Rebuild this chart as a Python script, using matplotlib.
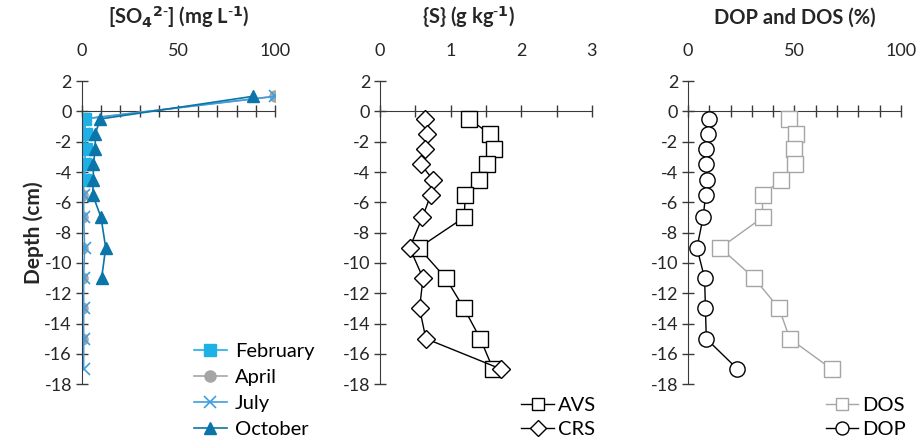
import matplotlib
matplotlib.use("Agg")
import matplotlib.pyplot as plt

plt.rcParams['font.family'] = ['Lato', 'DejaVu Sans']
plt.rcParams['axes.unicode_minus'] = False

# Depth profiles (cm); +1 = overlying water
depth_feb = [-0.5, -1.5, -2.5, -3.5, -4.5]
so4_feb = [1.5, 2, 2, 1.5, 1.5]
depth_apr = [1, -0.5, -1.5, -2.5, -3.5, -4.5, -5.5, -7, -9, -11, -13, -15]
so4_apr = [100, 0.5, 0.5, 0.5, 0, 0, 0, 0, 0, 0, 0, 0]
depth_jul = [1, -0.5, -1.5, -2.5, -3.5, -4.5, -5.5, -7, -9, -11, -13, -15, -17]
so4_jul = [100, 1, 1, 0, 1, 1, 1, 1, 1.5, 1, 1, 1, 1]
depth_oct = [1, -0.5, -1.5, -2.5, -3.5, -4.5, -5.5, -7, -9, -11]
so4_oct = [88.6, 9.5, 7, 7, 6, 6, 5.7, 10, 12.4, 10.3]

# Solid phase sulfur and pyritization
depth_s = [-0.5, -1.5, -2.5, -3.5, -4.5, -5.5, -7, -9, -11, -13, -15, -17]
avs = [1.26, 1.56, 1.62, 1.51, 1.40, 1.21, 1.19, 0.55, 0.93, 1.19, 1.42, 1.60]
crs = [0.64, 0.67, 0.64, 0.58, 0.75, 0.72, 0.60, 0.42, 0.61, 0.56, 0.65, 1.71]
dos = [47.5, 50.9, 49.7, 50.3, 43.9, 35.0, 35.0, 15.2, 31.0, 42.8, 47.8, 67.4]
dop = [9.7, 9.4, 8.6, 8.6, 9.1, 8.3, 7.1, 4.2, 7.8, 8.2, 8.6, 23.2]

AXC = '#3a3a3a'
TXT = '#262626'
TITLE_FS = 14.5
LEG_FS = 14.5


def style_axis(ax, xmax, label_ticks, minor_ticks):
    ax.set_xlim(0, xmax)
    ax.set_ylim(-18, 2)
    ax.set_yticks(range(-18, 3, 2))
    ax.xaxis.tick_top()
    ax.set_xticks(label_ticks)
    ax.tick_params(axis='x', length=0, pad=16, labelsize=13, labelcolor=TXT)
    ax.tick_params(axis='y', direction='inout', length=8, width=1, pad=3,
                   labelsize=13, labelcolor=TXT, color=AXC)
    for s in ['top', 'right', 'bottom']:
        ax.spines[s].set_visible(False)
    ax.spines['left'].set_color(AXC)
    # axis line at depth 0 with crossing ticks
    sec = ax.secondary_xaxis(0.9)
    sec.set_xticks(minor_ticks)
    sec.set_xticklabels([])
    sec.tick_params(axis='x', direction='inout', length=8, width=1, color=AXC)
    for sp in sec.spines.values():
        sp.set_color(AXC)


fig = plt.figure(figsize=(9.2, 4.41), dpi=100)
ax1 = fig.add_axes([0.0888, 0.129, 0.2104, 0.687])
ax2 = fig.add_axes([0.413, 0.129, 0.2304, 0.687])
ax3 = fig.add_axes([0.7478, 0.129, 0.2315, 0.687])

# Panel 1: porewater sulfate
l_apr, = ax1.plot(so4_apr, depth_apr, color='#a5a5a5', marker='o', ms=8, lw=1.2, label='April')
l_jul, = ax1.plot(so4_jul, depth_jul, color='#3d9ee0', marker='x', ms=9, mew=1.2, lw=1.2, label='July')
l_feb, = ax1.plot(so4_feb, depth_feb, color='#1fb0e6', marker='s', ms=8, lw=1.2, label='February')
l_oct, = ax1.plot(so4_oct, depth_oct, color='#0b74a8', marker='^', ms=9, lw=1.2, label='October')
style_axis(ax1, 100, [0, 50, 100], range(0, 101, 10))
ax1.set_ylabel('Depth (cm)', fontsize=15, fontweight='bold', color=TXT, labelpad=0)
ax1.text(0.5, 1.21, r'[SO$_\mathbf{4}$$^\mathbf{2\text{-}}$] (mg L$^\mathbf{\text{-}1}$)',
         transform=ax1.transAxes, ha='center', va='center', fontsize=TITLE_FS,
         fontweight='bold', color=TXT)
ax1.legend(handles=[l_feb, l_apr, l_jul, l_oct], loc='upper left',
           bbox_to_anchor=(0.53, 0.17), frameon=False, fontsize=LEG_FS,
           handlelength=1.6, handletextpad=0.4, labelspacing=0.45, borderpad=0)

# Panel 2: AVS and CRS
ax2.plot(avs, depth_s, color='black', marker='s', ms=11, mfc='white', mew=1, lw=1, label='AVS')
ax2.plot(crs, depth_s, color='black', marker='D', ms=9, mfc='white', mew=1, lw=1, label='CRS')
style_axis(ax2, 3, [0, 1, 2, 3], [0, 0.5, 1, 1.5, 2, 2.5, 3])
ax2.text(0.42, 1.21, '{S} (g kg$^\\mathbf{\\text{-}1}$)', transform=ax2.transAxes,
         ha='center', va='center', fontsize=TITLE_FS, fontweight='bold', color=TXT)
ax2.legend(loc='upper left', bbox_to_anchor=(0.62, -0.01), frameon=False, fontsize=LEG_FS,
           handlelength=1.6, handletextpad=0.2, labelspacing=0.35, borderpad=0,
           markerscale=0.85)

# Panel 3: DOP and DOS
ax3.plot(dos, depth_s, color='#a5a5a5', marker='s', ms=11, mfc='white', mew=1, lw=1, label='DOS')
ax3.plot(dop, depth_s, color='black', marker='o', ms=11, mfc='white', mew=1, lw=1, label='DOP')
style_axis(ax3, 100, [0, 50, 100], range(0, 101, 10))
ax3.text(0.5, 1.21, 'DOP and DOS (%)', transform=ax3.transAxes, ha='center',
         va='center', fontsize=TITLE_FS, fontweight='bold', color=TXT)
ax3.legend(loc='upper left', bbox_to_anchor=(0.6, -0.01), frameon=False, fontsize=LEG_FS,
           handlelength=1.6, handletextpad=0.2, labelspacing=0.35, borderpad=0,
           markerscale=0.85)

fig.savefig('out.png', dpi=100)
